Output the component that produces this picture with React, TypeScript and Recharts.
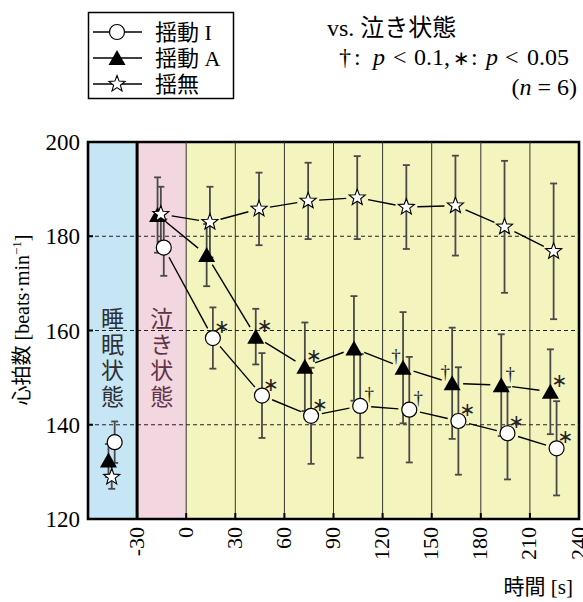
import React from 'react';
import {
  ComposedChart,
  Scatter,
  XAxis,
  YAxis,
  ErrorBar,
  ReferenceArea,
  ReferenceLine,
  Label,
} from 'recharts';

// phases: sleep, crying, then eight 30 s periods
const phases = ['S', 'C', 'P1', 'P2', 'P3', 'P4', 'P5', 'P6', 'P7', 'P8'];
const phaseMid = [-45, -15, 15, 45, 75, 105, 135, 165, 195, 225];
const timeTicks = [-30, 0, 30, 60, 90, 120, 150, 180, 210, 240];
const hrTicks = [120, 140, 160, 180, 200];
const gridX = [0, 30, 60, 90, 120, 150, 180, 210];
const gridY = [140, 160, 180];

// 揺動 I
const swingIMean = [136.3, 177.6, 158.4, 146.2, 141.9, 144.0, 143.2, 140.8, 138.2, 135.0];
const swingISd = [4.4, 6.0, 6.5, 9.0, 10.2, 11.0, 11.2, 11.4, 9.8, 10.0];
const swingISig = ['', '', '∗', '∗', '∗', '†', '†', '∗', '∗', '∗'];

// 揺動 A
const swingAMean = [132.4, 184.5, 176.0, 158.7, 152.3, 156.2, 152.1, 148.8, 148.4, 147.0];
const swingASd = [3.5, 8.0, 6.6, 5.9, 9.4, 11.1, 11.8, 11.8, 10.8, 9.0];
const swingASig = ['', '', '', '∗', '∗', '', '†', '†', '†', '∗'];

// 揺無
const noSwingMean = [128.9, 184.7, 183.0, 185.8, 187.5, 188.2, 186.2, 186.5, 182.0, 176.8];
const noSwingSd = [2.5, 5.8, 7.5, 7.7, 8.1, 8.8, 8.9, 10.6, 14.0, 14.4];

const SERIF = "'Liberation Serif', 'DejaVu Serif', 'Noto Sans CJK JP', serif";
const SANS = "'DejaVu Sans', sans-serif";

const build = (mean: number[], sd: number[], sig: string[] | null, shift: number) =>
  phaseMid.map((t, i) => ({ x: t + shift, y: mean[i], sd: sd[i], sig: sig ? sig[i] : '', i }));

const dataI = build(swingIMean, swingISd, swingISig, 1.3);
const dataA = build(swingAMean, swingASd, swingASig, -2.5);
const dataN = build(noSwingMean, noSwingSd, null, -0.5);

function starPoints(cx: number, cy: number, R: number, r: number) {
  const pts: string[] = [];
  for (let k = 0; k < 10; k++) {
    const rad = k % 2 === 0 ? R : r;
    const a = -Math.PI / 2 + (k * Math.PI) / 5;
    pts.push(`${cx + rad * Math.cos(a)},${cy + rad * Math.sin(a)}`);
  }
  return pts.join(' ');
}

const CircleMark = ({ cx, cy }: any) => (
  <circle cx={cx} cy={cy} r={7.5} fill="#fff" stroke="#000" strokeWidth={1.2} />
);
const TriMark = ({ cx, cy }: any) => (
  <polygon points={`${cx},${cy - 8} ${cx - 8.5},${cy + 7} ${cx + 8.5},${cy + 7}`} fill="#000" />
);
const StarMark = ({ cx, cy }: any) => (
  <polygon points={starPoints(cx, cy, 8.5, 3.6)} fill="#fff" stroke="#000" strokeWidth={1.1} />
);

const SigText = ({ x, y, text }: any) =>
  text ? (
    <text x={x} y={y} textAnchor="middle" dominantBaseline="central" fontSize={19}
      fontFamily={text === '∗' ? SANS : SERIF} fill="#222">
      {text}
    </text>
  ) : null;

const shapeI = (p: any) => (
  <g>
    <CircleMark cx={p.cx} cy={p.cy} />
    <SigText x={p.cx + 9} y={p.cy - 12} text={p.payload.sig} />
  </g>
);

const shapeA = (p: any) => {
  // daggers at P5/P6 sit on the left of the triangle
  const left = p.payload.sig === '†' && p.payload.i < 8;
  return (
    <g>
      <TriMark cx={p.cx} cy={p.cy} />
      <SigText x={p.cx + (left ? -7 : 9)} y={p.cy - 12} text={p.payload.sig} />
    </g>
  );
};

const shapeN = (p: any) => <StarMark cx={p.cx} cy={p.cy} />;

// S is not joined; segments stop short of the markers
const gappedLine = (props: any) => {
  const pts = (props.points || []).slice(1);
  const gap = 11;
  const segs: any[] = [];
  for (let k = 0; k < pts.length - 1; k++) {
    const a = pts[k];
    const b = pts[k + 1];
    const dx = b.x - a.x;
    const dy = b.y - a.y;
    const len = Math.hypot(dx, dy);
    if (len <= 2 * gap) continue;
    const ux = dx / len;
    const uy = dy / len;
    segs.push(
      <line key={k} x1={a.x + ux * gap} y1={a.y + uy * gap} x2={b.x - ux * gap} y2={b.y - uy * gap}
        stroke="#000" strokeWidth={1.4} />
    );
  }
  return <g>{segs}</g>;
};

const RotTick = ({ x, y, payload }: any) => (
  <text
    x={x}
    y={y}
    transform={`rotate(-90, ${x}, ${y})`}
    textAnchor="end"
    dy="0.3em"
    fontSize={22}
    fontFamily={SERIF}
    fill="#000"
  >
    {payload.value}
  </text>
);

const VerticalWords = ({ viewBox, text, color }: any) => {
  const cx = viewBox.x + viewBox.width / 2;
  return (
    <text fontSize={23} fontFamily={SERIF} fill={color} textAnchor="middle">
      {text.split('').map((ch: string, k: number) => (
        <tspan key={k} x={cx} y={viewBox.y + 185 + k * 26}>
          {ch}
        </tspan>
      ))}
    </text>
  );
};

const YTitle = () => (
  <text
    x={22}
    y={320}
    transform="rotate(-90, 22, 320)"
    textAnchor="middle"
    dy="0.35em"
    fontSize={20}
    fontFamily={SERIF}
    fill="#000"
  >
    <tspan>心拍数 [beats·min</tspan>
    <tspan dy={-8} fontSize={13}>−1</tspan>
    <tspan dy={8}>]</tspan>
  </text>
);

const XTitle = () => (
  <text x={573} y={594} textAnchor="end" fontSize={21} fontFamily={SERIF} fill="#000">
    時間 [s]
  </text>
);

const legendRows = [
  { name: '揺動 I', Mark: CircleMark },
  { name: '揺動 A', Mark: TriMark },
  { name: '揺無', Mark: StarMark },
];

function series(data: any[], shape: any) {
  return (
    <Scatter xAxisId="b" data={data} line={gappedLine} shape={shape} isAnimationActive={false}>
      <ErrorBar dataKey="sd" direction="y" width={3.5} stroke="#4a4a4a" strokeWidth={1.8} isAnimationActive={false} />
    </Scatter>
  );
}

export default function App() {
  return (
    <div style={{ position: 'absolute', left: 0, top: 0, width: 583, height: 602, background: '#fff' }}>
      <ComposedChart width={583} height={602} margin={{ top: 112, right: 4, bottom: 23, left: 28 }}>
        <XAxis
          xAxisId="top"
          orientation="top"
          type="number"
          dataKey="x"
          domain={[-60, 240]}
          ticks={phaseMid}
          interval={0}
          tickFormatter={(v: number) => phases[phaseMid.indexOf(v)]}
          axisLine={false}
          tickLine={false}
          tickSize={0}
          tickMargin={6}
          height={30}
          tick={{ fontSize: 22, fill: '#000', fontFamily: SERIF }}
        />
        <XAxis
          xAxisId="b"
          type="number"
          dataKey="x"
          domain={[-60, 240]}
          ticks={timeTicks}
          interval={0}
          axisLine={false}
          tickSize={-6}
          tickMargin={14}
          tickLine={{ stroke: '#000', strokeWidth: 2 }}
          tick={<RotTick />}
          height={60}
        >
          <Label content={<XTitle />} />
        </XAxis>
        <YAxis
          type="number"
          dataKey="y"
          domain={[120, 200]}
          ticks={hrTicks}
          interval={0}
          allowDataOverflow
          axisLine={false}
          tickSize={-5}
          tickMargin={13}
          tickLine={{ stroke: '#000', strokeWidth: 2 }}
          width={60}
          tick={{ fontSize: 23, fill: '#000', fontFamily: SERIF }}
        >
          <Label content={<YTitle />} />
        </YAxis>

        <ReferenceArea xAxisId="b" x1={-60} x2={-30} y1={120} y2={200} fill="#c6e6f5" fillOpacity={1} stroke="none"
          label={<VerticalWords text="睡眠状態" color="#2e2e33" />} />
        <ReferenceArea xAxisId="b" x1={-30} x2={0} y1={120} y2={200} fill="#f2d6e0" fillOpacity={1} stroke="none"
          label={<VerticalWords text="泣き状態" color="#5e3446" />} />
        <ReferenceArea xAxisId="b" x1={0} x2={240} y1={120} y2={200} fill="#f4f4bf" fillOpacity={1} stroke="none" />

        {gridX.map((v) => (
          <ReferenceLine key={`gx${v}`} xAxisId="b" x={v} stroke="#333" strokeWidth={1} />
        ))}
        {gridY.map((v) => (
          <ReferenceLine key={`gy${v}`} xAxisId="b" y={v} stroke="#222" strokeWidth={1} strokeDasharray="4 3" />
        ))}
        <ReferenceLine xAxisId="b" x={-30} stroke="#000" strokeWidth={3} />

        {series(dataA, shapeA)}
        {series(dataN, shapeN)}
        {series(dataI, shapeI)}

        <ReferenceArea xAxisId="b" x1={-60} x2={240} y1={120} y2={200} fill="none" stroke="#000" strokeWidth={2.6} />
      </ComposedChart>

      <svg width={583} height={110} style={{ position: 'absolute', left: 0, top: 0 }}>
        <rect x={88.5} y={12.5} width={145} height={86} fill="#fff" stroke="#000" strokeWidth={1.5} />
        {legendRows.map((r, k) => {
          const cy = 32 + k * 26;
          return (
            <g key={r.name}>
              <line x1={93} x2={142} y1={cy} y2={cy} stroke="#000" strokeWidth={1.3} />
              <r.Mark cx={117} cy={cy} />
              <text x={155} y={cy + 8} fontSize={22} fontFamily={SERIF} fill="#000">
                {r.name}
              </text>
            </g>
          );
        })}
        <text x={327} y={36} fontSize={24} fontFamily={SERIF} fill="#000">
          vs. 泣き状態
        </text>
        <text y={65} fontSize={24} fontFamily={SERIF} fill="#000">
          <tspan x={339}>†</tspan>
          <tspan x={354}>:</tspan>
          <tspan x={373} fontStyle="italic">p</tspan>
          <tspan x={393}>&lt;</tspan>
          <tspan x={414}>0.1,</tspan>
          <tspan x={453} fontFamily={SANS} fontSize={20}>∗</tspan>
          <tspan x={471}>:</tspan>
          <tspan x={486} fontStyle="italic">p</tspan>
          <tspan x={505}>&lt;</tspan>
          <tspan x={527}>0.05</tspan>
        </text>
        <text x={577} y={95} textAnchor="end" fontSize={24} fontFamily={SERIF} fill="#000">
          <tspan>(</tspan>
          <tspan fontStyle="italic">n</tspan>
          <tspan> = 6)</tspan>
        </text>
      </svg>
    </div>
  );
}
